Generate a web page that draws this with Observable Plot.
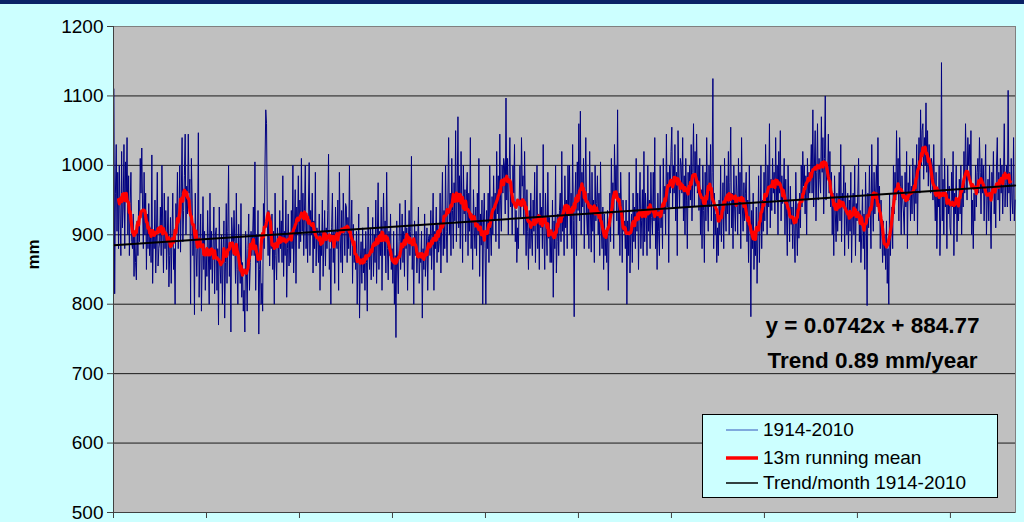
<!DOCTYPE html>
<html>
<head>
<meta charset="utf-8">
<script src="https://cdn.jsdelivr.net/npm/d3@7"></script>
<script src="https://cdn.jsdelivr.net/npm/@observablehq/plot@0.6"></script>
<style>
  html, body { margin: 0; padding: 0; width: 1024px; height: 522px; overflow: hidden;
    background: #ccffff; font-family: "Liberation Sans", Arial, sans-serif; }
  #band { position: absolute; left: 0; top: 0; width: 1024px; height: 4px; background: #0a2266; }
  #chart { position: absolute; left: 0; top: 0; }
  #legend { position: absolute; left: 702px; top: 414px; width: 294px; height: 82px;
    border: 1px solid #000; background: #ccffff; }
  .row { position: absolute; left: 23px; height: 22px; display: flex; align-items: center;
    font-size: 19px; color: #000; white-space: nowrap; }
  .row svg { margin-right: 5px; }
</style>
</head>
<body>
<div id="chart"></div>
<div id="band"></div>
<div id="legend"></div>
<script>
// Monthly rainfall totals (mm), one row per year, January..December, 1914-2010
const firstYear = 1914;
const monthlyRain = [
  [1110, 815, 960, 1030, 905, 990, 880, 1000, 930, 870, 1020, 910],
  [940, 1030, 880, 1005, 960, 1040, 900, 985, 870, 945, 990, 890],
  [880, 930, 840, 905, 860, 835, 920, 870, 950, 890, 1010, 960],
  [1025, 940, 880, 990, 900, 960, 850, 930, 880, 945, 870, 910],
  [860, 1015, 830, 905, 880, 950, 845, 900, 990, 855, 880, 890],
  [940, 870, 1000, 910, 845, 960, 880, 935, 850, 900, 955, 825],
  [870, 925, 830, 900, 960, 850, 880, 800, 945, 905, 990, 880],
  [920, 1000, 875, 960, 1040, 890, 935, 985, 1045, 900, 970, 930],
  [1045, 960, 980, 800, 1010, 950, 870, 905, 785, 960, 880, 840],
  [900, 1047, 810, 880, 930, 790, 870, 955, 850, 905, 820, 880],
  [840, 935, 870, 800, 960, 850, 905, 830, 880, 940, 815, 900],
  [910, 820, 880, 770, 940, 855, 830, 900, 800, 875, 920, 780],
  [860, 945, 830, 905, 1000, 840, 880, 760, 925, 900, 870, 935],
  [890, 830, 960, 850, 800, 915, 870, 830, 945, 810, 860, 790],
  [820, 760, 905, 850, 790, 880, 930, 820, 860, 905, 870, 895],
  [940, 870, 1005, 820, 900, 860, 935, 757, 850, 880, 800, 830],
  [790, 945, 880, 1000, 1080, 1060, 920, 870, 935, 855, 900, 880],
  [930, 850, 905, 800, 960, 870, 835, 910, 890, 860, 935, 880],
  [920, 860, 985, 840, 905, 870, 950, 810, 880, 930, 855, 900],
  [860, 935, 880, 1000, 845, 910, 965, 830, 940, 900, 985, 880],
  [950, 890, 1010, 905, 960, 870, 935, 1000, 880, 920, 860, 940],
  [1004, 870, 935, 900, 960, 845, 920, 880, 990, 855, 910, 900],
  [860, 930, 820, 905, 870, 950, 840, 890, 935, 855, 910, 880],
  [935, 1016, 850, 880, 800, 910, 960, 860, 905, 830, 940, 890],
  [880, 950, 820, 990, 900, 860, 935, 845, 960, 910, 870, 945],
  [940, 860, 925, 880, 1000, 870, 905, 950, 830, 915, 860, 880],
  [850, 905, 800, 870, 930, 780, 860, 890, 830, 910, 845, 880],
  [820, 905, 860, 790, 940, 875, 850, 910, 835, 880, 925, 840],
  [900, 860, 950, 830, 895, 975, 850, 905, 870, 940, 820, 910],
  [960, 870, 920, 845, 990, 880, 835, 905, 870, 930, 850, 880],
  [830, 905, 800, 870, 752, 920, 860, 815, 890, 945, 850, 880],
  [930, 860, 905, 840, 950, 880, 910, 820, 890, 935, 870, 905],
  [1013, 850, 890, 800, 920, 870, 905, 845, 880, 940, 830, 870],
  [860, 905, 780, 880, 850, 930, 840, 870, 910, 820, 895, 900],
  [870, 935, 850, 900, 960, 820, 905, 880, 940, 860, 915, 875],
  [890, 960, 845, 920, 990, 870, 935, 880, 1000, 905, 860, 950],
  [1040, 900, 960, 870, 1010, 935, 880, 975, 920, 1050, 890, 955],
  [1070, 910, 985, 880, 1020, 940, 860, 1000, 930, 965, 890, 960],
  [990, 870, 960, 905, 1040, 880, 930, 850, 965, 910, 880, 940],
  [870, 960, 900, 1010, 840, 930, 885, 950, 800, 920, 960, 880],
  [800, 935, 880, 960, 860, 1000, 910, 870, 955, 900, 985, 920],
  [960, 890, 1020, 930, 985, 880, 1045, 950, 905, 1000, 960, 1010],
  [1000, 930, 1097, 950, 1010, 900, 985, 1040, 940, 975, 900, 1000],
  [960, 1030, 890, 935, 860, 910, 880, 950, 1000, 925, 1040, 970],
  [985, 900, 1020, 940, 870, 965, 905, 850, 935, 880, 960, 900],
  [870, 950, 905, 990, 860, 920, 1000, 880, 930, 850, 960, 910],
  [940, 880, 1030, 900, 850, 960, 910, 870, 990, 895, 925, 860],
  [905, 860, 950, 810, 920, 880, 1000, 845, 890, 930, 870, 935],
  [960, 890, 1020, 905, 940, 870, 985, 910, 950, 880, 1000, 930],
  [1000, 900, 960, 880, 1030, 920, 782, 950, 990, 870, 1005, 935],
  [1060, 920, 1078, 900, 990, 940, 1010, 880, 965, 1040, 930, 900],
  [960, 880, 1020, 930, 875, 990, 905, 950, 860, 1000, 920, 945],
  [985, 900, 960, 870, 1005, 910, 880, 940, 850, 930, 870, 905],
  [860, 935, 820, 900, 960, 890, 1010, 930, 975, 880, 1030, 960],
  [1000, 920, 1080, 900, 960, 870, 990, 935, 860, 950, 905, 920],
  [880, 950, 800, 920, 870, 990, 845, 905, 930, 860, 960, 890],
  [940, 880, 1010, 905, 960, 850, 935, 990, 880, 920, 965, 870],
  [1020, 890, 960, 930, 870, 1000, 905, 950, 880, 990, 925, 900],
  [990, 920, 1040, 880, 935, 850, 960, 905, 870, 1000, 910, 940],
  [880, 1010, 930, 970, 900, 1045, 940, 990, 860, 1000, 960, 1020],
  [1055, 940, 1000, 960, 1030, 920, 990, 870, 1050, 980, 940, 1010],
  [1000, 960, 1040, 920, 985, 900, 1010, 950, 880, 990, 940, 1000],
  [950, 1030, 920, 990, 1060, 940, 1020, 970, 1045, 960, 1000, 935],
  [1010, 900, 965, 880, 1000, 935, 860, 990, 920, 1040, 950, 905],
  [1000, 940, 1030, 920, 990, 1125, 880, 960, 900, 930, 860, 910],
  [870, 950, 900, 1000, 890, 930, 975, 880, 1010, 940, 905, 985],
  [930, 1020, 900, 975, 1055, 910, 960, 880, 1000, 940, 905, 985],
  [960, 900, 1010, 930, 990, 880, 1040, 940, 905, 975, 920, 960],
  [990, 890, 950, 860, 1000, 920, 782, 935, 880, 960, 850, 900],
  [870, 940, 830, 900, 985, 860, 920, 1000, 880, 950, 905, 990],
  [920, 1030, 960, 900, 1000, 940, 1060, 910, 980, 935, 1010, 960],
  [990, 930, 1040, 950, 1000, 900, 1020, 960, 1050, 920, 985, 945],
  [960, 1010, 900, 980, 930, 870, 1000, 945, 890, 970, 915, 940],
  [880, 950, 900, 860, 990, 920, 870, 945, 895, 960, 910, 1000],
  [940, 1020, 970, 1000, 930, 985, 900, 1010, 950, 990, 960, 990],
  [1030, 960, 1080, 940, 1000, 1050, 920, 990, 1060, 950, 1010, 980],
  [960, 1070, 990, 1040, 930, 1010, 1100, 950, 1000, 980, 1045, 960],
  [1020, 940, 990, 900, 960, 870, 985, 930, 890, 960, 905, 940],
  [990, 920, 1030, 890, 960, 940, 1000, 870, 975, 930, 900, 960],
  [880, 950, 905, 990, 860, 930, 960, 900, 1000, 870, 945, 920],
  [960, 1010, 890, 935, 860, 900, 965, 880, 930, 850, 990, 920],
  [798, 960, 910, 1000, 940, 880, 1030, 950, 905, 990, 930, 960],
  [1000, 940, 1040, 920, 970, 880, 950, 905, 860, 920, 870, 900],
  [850, 920, 830, 880, 800, 960, 870, 905, 940, 880, 1000, 930],
  [990, 950, 1050, 960, 1010, 920, 1040, 970, 900, 985, 950, 930],
  [900, 990, 940, 1020, 880, 975, 950, 1000, 920, 970, 930, 1010],
  [960, 920, 1000, 945, 1030, 900, 990, 1040, 960, 1080, 1000, 1050],
  [1060, 980, 1040, 1000, 1090, 990, 1050, 970, 1030, 1000, 960, 1010],
  [1000, 950, 1030, 960, 920, 990, 880, 960, 940, 1000, 870, 930],
  [1148, 920, 980, 900, 1010, 940, 960, 880, 1000, 930, 970, 910],
  [900, 990, 940, 1020, 870, 960, 930, 1000, 890, 950, 920, 980],
  [930, 1000, 900, 970, 940, 1020, 960, 1060, 990, 950, 1040, 1000],
  [1030, 980, 1050, 900, 950, 880, 960, 920, 1000, 940, 990, 1010],
  [960, 1040, 990, 930, 1010, 960, 1000, 920, 970, 1030, 900, 950],
  [980, 920, 1000, 940, 880, 990, 960, 1020, 930, 970, 910, 1000],
  [1040, 950, 990, 920, 1010, 960, 1000, 930, 980, 1060, 940, 975],
  [1000, 940, 1108, 960, 990, 920, 1010, 950, 930, 1040, 920, 950]
];

// Linear trend fitted per month (x = month number from Jan 1914)
const trendSlope = 0.0742;
const trendIntercept = 884.77;
const trendPerYear = 0.89;

const yTicks = [500, 600, 700, 800, 900, 1000, 1100, 1200];
const xTicks = [0, 120, 240, 360, 480, 600, 720, 840, 960, 1080];
const seriesLabels = ["1914-2010", "13m running mean", "Trend/month 1914-2010"];
const seriesColors = ["#000080", "#ff0000", "#000000"];

// Flatten into one record per month; month i is drawn at the centre of its slot
const series = monthlyRain.flat().map((v, i) => ({month: i + 0.5, n: i + 1, value: v}));
const nMonths = series.length;
const trend = [series[0], series[nMonths - 1]].map(d => ({month: d.month, value: trendIntercept + trendSlope * d.n}));

const chart = Plot.plot({
  width: 1024,
  height: 522,
  marginLeft: 113,
  marginRight: 9,
  marginTop: 26,
  marginBottom: 10,
  style: {background: "transparent", fontFamily: "Liberation Sans, Arial, sans-serif", fontSize: "19px", overflow: "visible"},
  x: {domain: [0, nMonths]},
  y: {domain: [500, 1200]},
  marks: [
    Plot.frame({fill: "#c0c0c0", stroke: "#808080"}),
    Plot.gridY(yTicks.slice(1, -1), {stroke: "#1a1a1a", strokeOpacity: 1, strokeWidth: 1}),
    Plot.lineY(series, {x: "month", y: "value", stroke: seriesColors[0], strokeWidth: 1}),
    Plot.lineY(series, Plot.windowY({k: 13, anchor: "middle", strict: true},
      {x: "month", y: "value", stroke: seriesColors[1], strokeWidth: 3.2, strokeLinejoin: "round"})),
    Plot.line(trend, {x: "month", y: "value", stroke: seriesColors[2], strokeWidth: 2}),
    Plot.ruleX([0], {stroke: "#404040"}),
    Plot.ruleY([500], {stroke: "#404040"}),
    Plot.axisY({ticks: yTicks, tickSize: 6, tickPadding: 4, fontSize: 19, label: null, tickFormat: d => `${d}`, color: "#000", stroke: "#404040"}),
    Plot.axisX({ticks: xTicks, tickSize: 6, tickFormat: () => "", label: null, stroke: "#404040"}),
    Plot.text(["mm"], {frameAnchor: "left", dx: -80, rotate: -90, fontSize: 17, fontWeight: "bold", fill: "#000"}),
    Plot.text([`y = ${trendSlope}x + ${trendIntercept}`], {frameAnchor: "top-left", dx: 759, dy: 299, textAnchor: "middle", lineAnchor: "middle", fontSize: 22.5, fontWeight: "bold", fill: "#000"}),
    Plot.text([`Trend ${trendPerYear} mm/year`], {frameAnchor: "top-left", dx: 759, dy: 334, textAnchor: "middle", lineAnchor: "middle", fontSize: 22.5, fontWeight: "bold", fill: "#000"})
  ]
});
document.getElementById("chart").appendChild(chart);

// Legend box inside the plot area
const legend = document.getElementById("legend");
const rowTops = [4, 32, 57];
const swatchWidths = [1, 3.5, 1.5];
const swatchColors = ["#3355bb", "#ff0000", "#000000"];
seriesLabels.forEach((label, i) => {
  const row = document.createElement("div");
  row.className = "row";
  row.style.top = rowTops[i] + "px";
  row.innerHTML = `<svg width="32" height="10"><line x1="0" x2="32" y1="5" y2="5" stroke="${swatchColors[i]}" stroke-width="${swatchWidths[i]}"/></svg><span>${label}</span>`;
  legend.appendChild(row);
});
</script>
</body>
</html>
